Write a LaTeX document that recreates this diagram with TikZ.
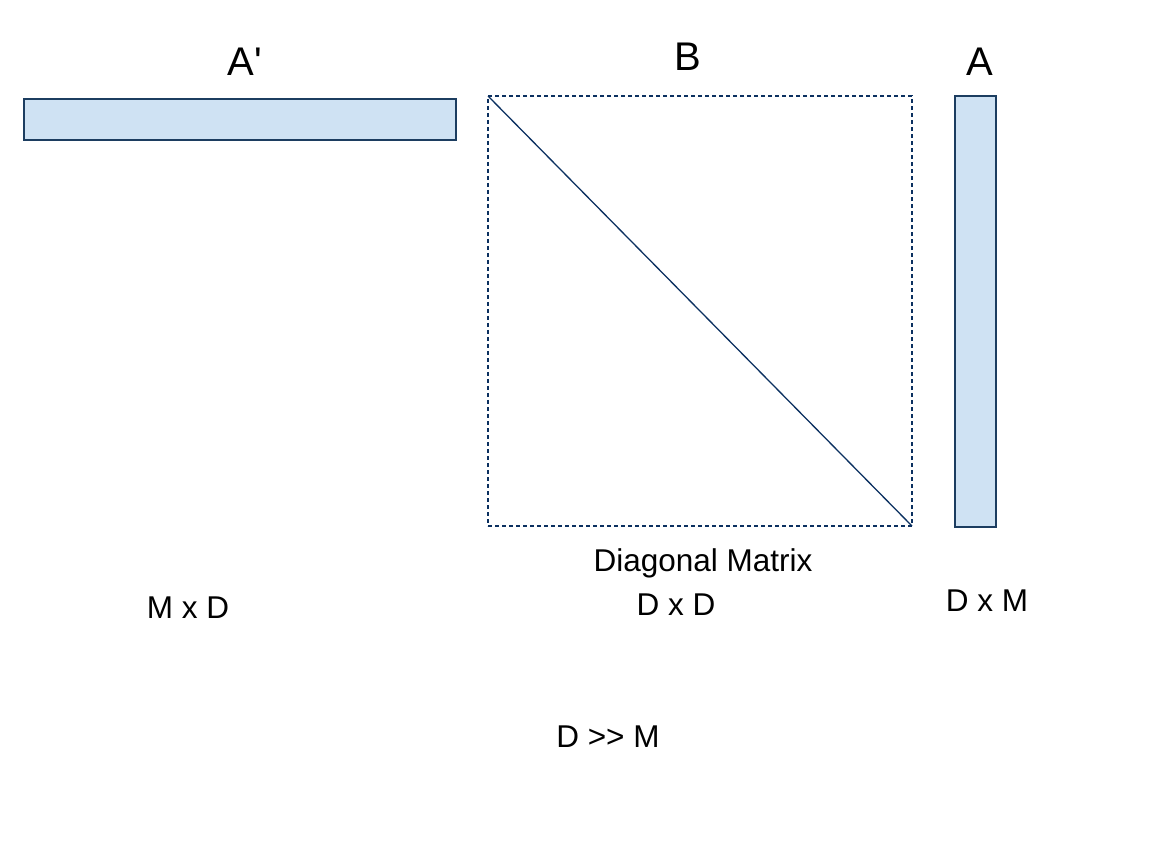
\documentclass[tikz,border=0pt]{standalone}
\usepackage{fontspec}
\setmainfont{Liberation Sans}[Ligatures=TeXOff]
\definecolor{matfill}{HTML}{CFE2F3}
\definecolor{matline}{HTML}{1C3D60}
\definecolor{diagline}{HTML}{0B3060}
\begin{document}
\begin{tikzpicture}[x=1pt,y=-1pt,
  matbox/.style={draw=matline,fill=matfill,line width=1.4pt,inner sep=0pt,outer sep=0pt},
  dotbox/.style={draw=diagline,line width=1.5pt,dash pattern=on 4pt off 3pt,inner sep=0pt,outer sep=0pt},
  biglabel/.style={font=\fontsize{40}{48}\selectfont,anchor=base,inner sep=0pt},
  lbl/.style={font=\fontsize{31.5}{38}\selectfont,anchor=base,inner sep=0pt}]
\useasboundingbox (0,0) rectangle (1152,864);
\node[matbox,minimum width=432pt,minimum height=41pt] (Ap) at (240,119.5) {};
\node[dotbox,minimum width=424pt,minimum height=430pt] (B) at (700,311) {};
\node[matbox,minimum width=41pt,minimum height=431pt] (A) at (975.5,311.5) {};
\draw[diagline,line width=1.3pt] (B.north west) -- (B.south east);
\node[biglabel] (tAp) at (245,76) {A\char"27};
\node[biglabel] (tB) at (688,71) {B};
\node[biglabel] (tA) at (980,76) {A};
\node[lbl] (diag) at (703,571) {Diagonal Matrix};
\node[lbl] (dxd) at (676,615) {D x D};
\node[lbl] (dxm) at (987,611) {D x M};
\node[lbl] (mxd) at (188,618) {M x D};
\node[lbl] (dm) at (608,747) {D {>}{>} M};
\end{tikzpicture}
\end{document}
